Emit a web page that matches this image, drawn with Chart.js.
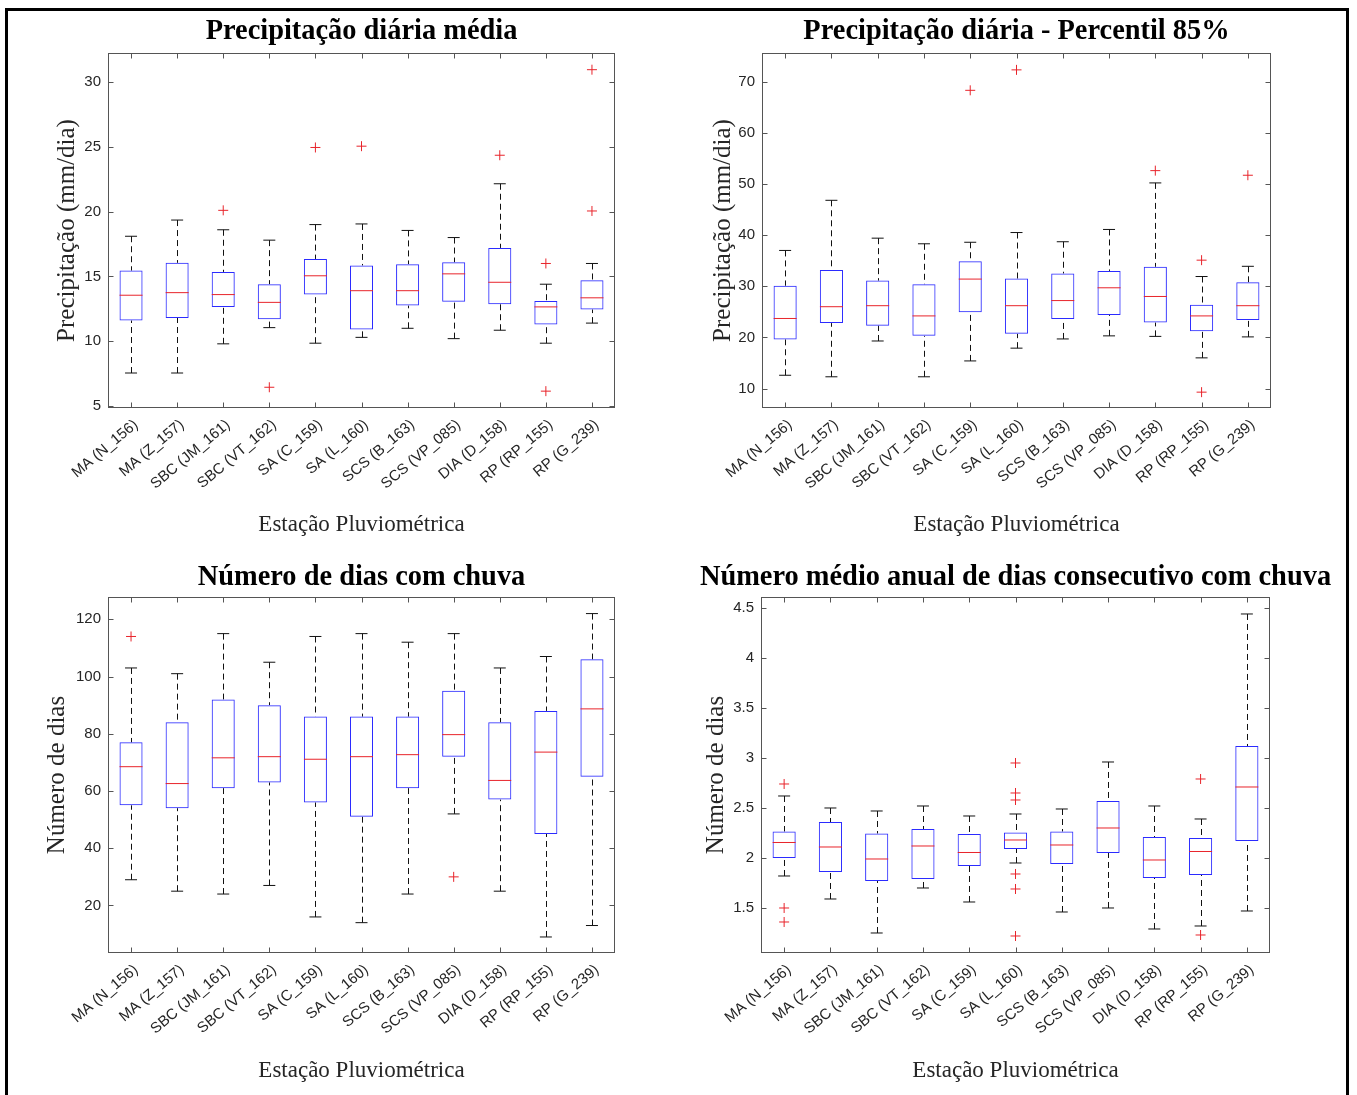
<!DOCTYPE html>
<html>
<head>
<meta charset="utf-8">
<script src="https://cdn.jsdelivr.net/npm/chart.js@4.4.0/dist/chart.umd.min.js"></script>
<style>
html, body { margin: 0; padding: 0; background: #fff; }
body { width: 1357px; height: 1095px; position: relative; overflow: hidden; }
#moldura { position: absolute; left: 5px; top: 8px; width: 1344px; height: 1200px; border: 3px solid #000; box-sizing: border-box; }
canvas { position: absolute; }
</style>
</head>
<body>
<div id="moldura"></div>
<canvas id="media" width="723" height="545" style="left:0px;top:0px"></canvas>
<canvas id="p85" width="673" height="545" style="left:680px;top:0px"></canvas>
<canvas id="chuva" width="723" height="549" style="left:0px;top:546px"></canvas>
<canvas id="consec" width="671" height="549" style="left:680px;top:546px"></canvas>
<script>
const estacoes = ['MA (N_156)', 'MA (Z_157)', 'SBC (JM_161)', 'SBC (VT_162)', 'SA (C_159)', 'SA (L_160)',
    'SCS (B_163)', 'SCS (VP_085)', 'DIA (D_158)', 'RP (RP_155)', 'RP (G_239)'];

// Precipitação diária média
const mediaMin = [7.55, 7.55, 9.8, 11.05, 9.85, 10.3, 11.0, 10.2, 10.85, 9.85, 11.4];
const mediaQ1 = [11.6, 11.8, 12.65, 11.7, 13.6, 10.9, 12.75, 13.05, 12.85, 11.3, 12.45];
const mediaMed = [13.55, 13.75, 13.6, 13.0, 15.05, 13.9, 13.9, 15.2, 14.55, 12.65, 13.35];
const mediaQ3 = [15.45, 16.05, 15.35, 14.4, 16.35, 15.85, 15.95, 16.1, 17.2, 13.1, 14.7];
const mediaMax = [18.1, 19.35, 18.6, 17.8, 19.0, 19.05, 18.55, 18.0, 22.15, 14.4, 16.0];
const mediaOut = [[], [], [20.1], [6.45], [24.95], [25.05], [], [], [24.35], [16.0, 6.15], [30.95, 20.05]];
const mediaTicks = [5, 10, 15, 20, 25, 30];

// Precipitação diária - Percentil 85%
const p85Min = [12.6, 12.3, 19.3, 12.3, 15.4, 17.9, 19.7, 20.3, 20.2, 16.0, 20.1];
const p85Q1 = [19.6, 22.8, 22.3, 20.3, 24.9, 20.7, 23.6, 24.4, 22.9, 21.2, 23.4];
const p85Med = [23.7, 26.0, 26.2, 24.2, 31.4, 26.2, 27.2, 29.7, 28.0, 24.2, 26.2];
const p85Q3 = [30.1, 33.2, 31.1, 30.4, 34.9, 31.5, 32.5, 33.0, 33.8, 26.4, 30.8];
const p85Max = [37.0, 46.8, 39.4, 38.3, 38.6, 40.5, 38.7, 41.1, 50.2, 31.9, 33.9];
const p85Out = [[], [], [], [], [68.3], [72.3], [], [], [52.6], [35.1, 9.3], [51.7]];
const p85Ticks = [10, 20, 30, 40, 50, 60, 70];

// Número de dias com chuva
const chuvaMin = [29, 25, 24, 27, 16, 14, 24, 52, 25, 9, 13];
const chuvaQ1 = [55, 54, 61, 63, 56, 51, 61, 72, 57, 45, 65];
const chuvaMed = [68.5, 62.6, 71.6, 72, 71.1, 72, 72.7, 79.7, 63.7, 73.6, 88.7];
const chuvaQ3 = [77, 84, 92, 90, 86, 86, 86, 95, 84, 88, 106];
const chuvaMax = [103, 101, 115, 105, 114, 115, 112, 115, 103, 107, 122];
const chuvaOut = [[114], [], [], [], [], [], [], [30], [], [], []];
const chuvaTicks = [20, 40, 60, 80, 100, 120];

// Número médio anual de dias consecutivo com chuva
const consecMin = [1.82, 1.59, 1.25, 1.70, 1.56, 1.95, 1.46, 1.50, 1.29, 1.32, 1.47];
const consecQ1 = [2.0, 1.86, 1.77, 1.79, 1.92, 2.09, 1.94, 2.05, 1.80, 1.83, 2.17];
const consecMed = [2.155, 2.11, 1.99, 2.12, 2.055, 2.18, 2.13, 2.30, 1.98, 2.065, 2.71];
const consecQ3 = [2.265, 2.36, 2.245, 2.29, 2.24, 2.255, 2.265, 2.57, 2.21, 2.20, 3.12];
const consecMax = [2.62, 2.50, 2.47, 2.52, 2.42, 2.44, 2.49, 2.96, 2.52, 2.39, 4.44];
const consecOut = [[2.74, 1.50, 1.36], [], [], [], [], [2.95, 2.65, 2.58, 1.84, 1.69, 1.22], [], [], [], [2.79, 1.23], []];
const consecTicks = [1.5, 2, 2.5, 3, 3.5, 4, 4.5];

const SERIF = "'Liberation Serif', 'Times New Roman', serif";
const SANS = "'Liberation Sans', Arial, sans-serif";
const AZUL = '#2b2bff';
const VERMELHO = '#e8242b';

// whiskers (dashed) drawn under the boxes
function bigodes(lo, q1, q3, hi) {
    return {
        id: 'bigodes',
        beforeDatasetsDraw(chart) {
            const { ctx, scales: { x, y } } = chart;
            ctx.save();
            ctx.strokeStyle = '#111';
            ctx.lineWidth = 1;
            ctx.setLineDash([6, 4]);
            lo.forEach((v, i) => {
                const px = Math.round(x.getPixelForValue(i)) + 0.5;
                ctx.beginPath();
                ctx.moveTo(px, y.getPixelForValue(hi[i]));
                ctx.lineTo(px, y.getPixelForValue(q3[i]));
                ctx.stroke();
                ctx.beginPath();
                ctx.moveTo(px, y.getPixelForValue(lo[i]));
                ctx.lineTo(px, y.getPixelForValue(q1[i]));
                ctx.stroke();
            });
            ctx.restore();
        }
    };
}

// MATLAB style box with inward ticks on all sides
const eixos = {
    id: 'eixos',
    afterDraw(chart) {
        const { ctx, chartArea: a, scales: { x, y } } = chart;
        const l = Math.round(a.left) + 0.5, r = Math.round(a.right) - 0.5;
        const t = Math.round(a.top) + 0.5, b = Math.round(a.bottom) - 0.5;
        ctx.save();
        ctx.strokeStyle = '#555';
        ctx.lineWidth = 1;
        ctx.strokeRect(l, t, r - l, b - t);
        ctx.beginPath();
        x.ticks.forEach((tk, i) => {
            const px = Math.round(x.getPixelForTick(i)) + 0.5;
            ctx.moveTo(px, b); ctx.lineTo(px, b - 5);
            ctx.moveTo(px, t); ctx.lineTo(px, t + 5);
        });
        y.ticks.forEach(tk => {
            const py = Math.round(y.getPixelForValue(tk.value)) + 0.5;
            ctx.moveTo(l, py); ctx.lineTo(l + 5, py);
            ctx.moveTo(r, py); ctx.lineTo(r - 5, py);
        });
        ctx.stroke();
        ctx.restore();
    }
};

function painel(id, p) {
    const pontos = arr => arr.map((v, i) => ({ x: estacoes[i], y: v }));
    const fora = [];
    p.out.forEach((vals, i) => vals.forEach(v => fora.push({ x: estacoes[i], y: v })));
    return new Chart(document.getElementById(id), {
        type: 'bar',
        data: {
            labels: estacoes,
            datasets: [
                {
                    data: p.q1.map((v, i) => [v, p.q3[i]]),
                    backgroundColor: 'rgba(255,255,255,0)',
                    borderColor: AZUL,
                    borderWidth: 1,
                    borderSkipped: false,
                    barPercentage: 0.5,
                    categoryPercentage: 1,
                    order: 4
                },
                {
                    type: 'line',
                    data: pontos(p.max).concat(pontos(p.min)),
                    showLine: false,
                    pointStyle: 'line',
                    pointRadius: 6,
                    pointBorderColor: '#111',
                    pointBorderWidth: 1,
                    order: 3
                },
                {
                    type: 'line',
                    data: pontos(p.med),
                    showLine: false,
                    pointStyle: 'line',
                    pointRadius: 11.5,
                    pointBorderColor: VERMELHO,
                    pointBorderWidth: 1,
                    order: 2
                },
                {
                    type: 'line',
                    data: fora,
                    showLine: false,
                    pointStyle: 'cross',
                    pointRadius: 5,
                    pointBorderColor: VERMELHO,
                    pointBorderWidth: 1,
                    order: 1
                }
            ]
        },
        options: {
            responsive: false,
            animation: false,
            events: [],
            layout: { padding: 0 },
            plugins: {
                legend: { display: false },
                tooltip: { enabled: false },
                title: {
                    display: true,
                    text: p.titulo,
                    color: '#000',
                    font: { family: SERIF, size: 28.4, weight: 'bold', lineHeight: 1.2 },
                    padding: { top: p.titTop, bottom: p.titBottom }
                }
            },
            scales: {
                x: {
                    type: 'category',
                    offset: true,
                    grid: { display: false, drawTicks: false },
                    border: { display: false },
                    ticks: {
                        autoSkip: false,
                        maxRotation: 40,
                        minRotation: 40,
                        padding: 8,
                        labelOffset: 5,
                        color: '#262626',
                        font: { family: SANS, size: 15 }
                    },
                    title: {
                        display: true,
                        text: 'Estação Pluviométrica',
                        color: '#262626',
                        font: { family: SERIF, size: 23, lineHeight: 1.2 },
                        padding: { top: 0, bottom: p.xTitPad }
                    },
                    afterFit: s => { s.height = p.xAltura; }
                },
                y: {
                    type: 'linear',
                    min: p.ymin,
                    max: p.ymax,
                    grid: { display: false, drawTicks: false },
                    border: { display: false },
                    afterBuildTicks: s => { s.ticks = p.ticks.map(v => ({ value: v })); },
                    ticks: {
                        padding: 7,
                        color: '#262626',
                        font: { family: SANS, size: 15 },
                        callback: v => String(v)
                    },
                    title: {
                        display: true,
                        text: p.yTitulo,
                        color: '#262626',
                        font: { family: SERIF, size: 25, lineHeight: 1.2 },
                        padding: { top: p.yTitPad, bottom: 0 }
                    },
                    afterFit: s => { s.width = p.yLargura; }
                },
                // empty right axis, only to keep the plot centred under the title
                yEspelho: {
                    type: 'linear',
                    position: 'right',
                    grid: { display: false, drawTicks: false },
                    border: { display: false },
                    ticks: { display: false },
                    afterFit: s => { s.width = p.yLargura; }
                }
            }
        },
        plugins: [bigodes(p.min, p.q1, p.q3, p.max), eixos]
    });
}

painel('media', {
    titulo: 'Precipitação diária média', yTitulo: 'Precipitação (mm/dia)',
    min: mediaMin, q1: mediaQ1, med: mediaMed, q3: mediaQ3, max: mediaMax, out: mediaOut,
    ticks: mediaTicks, ymin: 4.85, ymax: 32.24,
    yLargura: 108, yTitPad: 52, titTop: 15, titBottom: 3.9, xAltura: 137, xTitPad: 6.2
});
painel('p85', {
    titulo: 'Precipitação diária - Percentil 85%', yTitulo: 'Precipitação (mm/dia)',
    min: p85Min, q1: p85Q1, med: p85Med, q3: p85Q3, max: p85Max, out: p85Out,
    ticks: p85Ticks, ymin: 6.2, ymax: 75.6,
    yLargura: 82, yTitPad: 28, titTop: 15, titBottom: 3.9, xAltura: 137, xTitPad: 6.2
});
painel('chuva', {
    titulo: 'Número de dias com chuva', yTitulo: 'Número de dias',
    min: chuvaMin, q1: chuvaQ1, med: chuvaMed, q3: chuvaQ3, max: chuvaMax, out: chuvaOut,
    ticks: chuvaTicks, ymin: 3.4, ymax: 127.8,
    yLargura: 108, yTitPad: 42, titTop: 15, titBottom: 1.9, xAltura: 142, xTitPad: 10.2
});
painel('consec', {
    titulo: 'Número médio anual de dias consecutivo com chuva', yTitulo: 'Número de dias',
    min: consecMin, q1: consecQ1, med: consecMed, q3: consecQ3, max: consecMax, out: consecOut,
    ticks: consecTicks, ymin: 1.05, ymax: 4.61,
    yLargura: 81, yTitPad: 21, titTop: 15, titBottom: 1.9, xAltura: 142, xTitPad: 10.2
});
</script>
</body>
</html>
